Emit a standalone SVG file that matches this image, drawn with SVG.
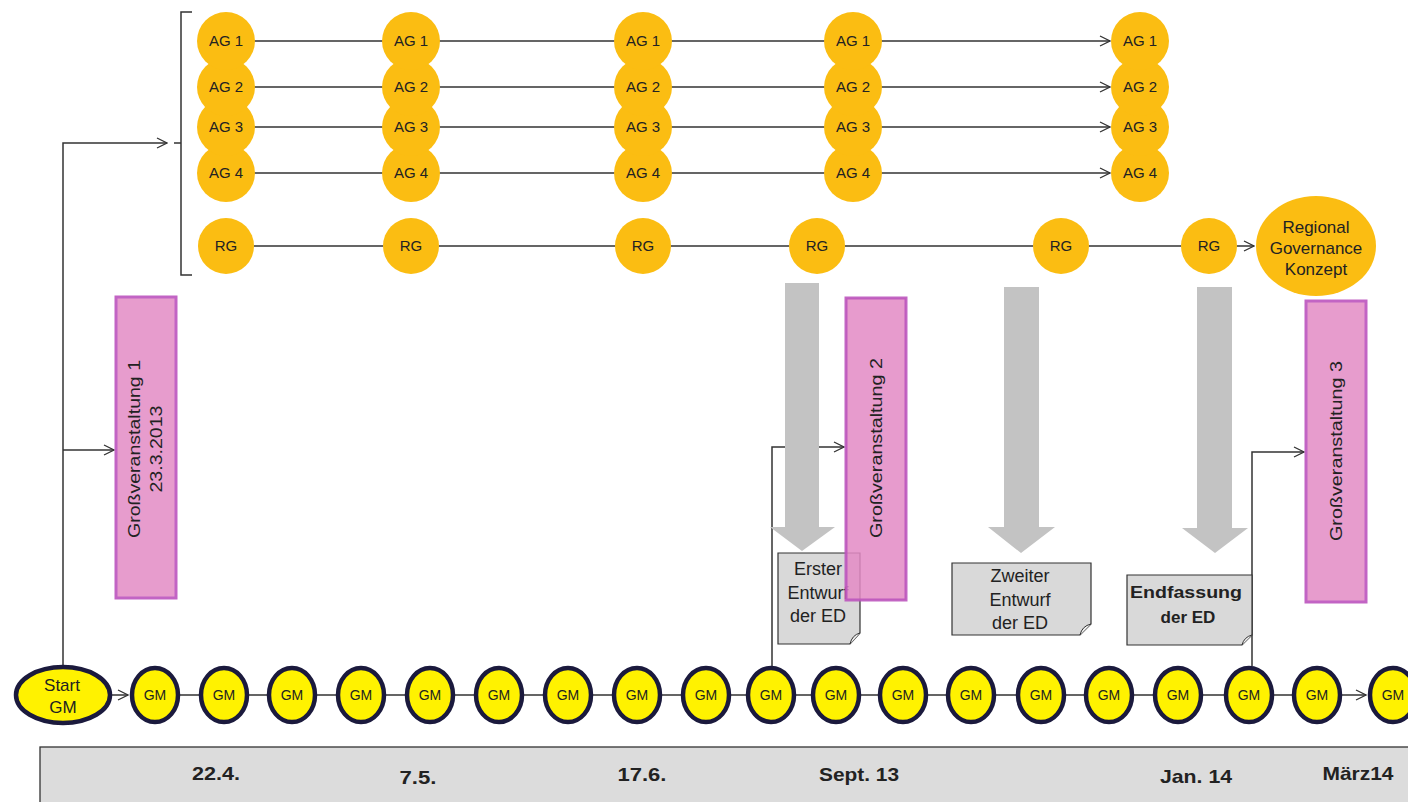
<svg xmlns="http://www.w3.org/2000/svg" width="1408" height="802" viewBox="0 0 1408 802">
<defs>
<marker id="arr" viewBox="0 0 12 12" refX="11" refY="6" markerWidth="12" markerHeight="12" markerUnits="userSpaceOnUse" orient="auto">
<path d="M1,1 L11,6 L1,11" fill="none" stroke="#333" stroke-width="1.3"/>
</marker>
</defs>
<style>
.ag{fill:#fbbd12}
.t{font-family:"Liberation Sans",Arial,sans-serif;fill:#222;text-anchor:middle}
.s15{font-size:15px}
.s14{font-size:14px}
.ln{stroke:#333;stroke-width:1.5;fill:none}
.pink{fill:#e79ccd;stroke:#c264c4;stroke-width:3}
.gm{fill:#fff200;stroke:#1b1a3d;stroke-width:4.5}
.big{fill:#c3c3c3}
.doc{fill:#d9d9d9;stroke:#333;stroke-width:1.2}
.date{font-family:"Liberation Sans",Arial,sans-serif;font-weight:bold;font-size:19px;fill:#222;text-anchor:middle}
</style>
<rect width="1408" height="802" fill="#fff"/>

<g id="connectors">
<path class="ln" d="M254,41H383M439,41H615M671,41H825"/>
<path class="ln" d="M881,41H1110" marker-end="url(#arr)"/>
<path class="ln" d="M254,87H383M439,87H615M671,87H825"/>
<path class="ln" d="M881,87H1110" marker-end="url(#arr)"/>
<path class="ln" d="M254,127H383M439,127H615M671,127H825"/>
<path class="ln" d="M881,127H1110" marker-end="url(#arr)"/>
<path class="ln" d="M254,173H383M439,173H615M671,173H825"/>
<path class="ln" d="M881,173H1110" marker-end="url(#arr)"/>
<path class="ln" d="M254,246H383M439,246H615M671,246H789M845,246H1033M1089,246H1181"/>
<path class="ln" d="M1237,246H1254" marker-end="url(#arr)"/>
<path class="ln" d="M192,12H181V143H174M181,143V275H192" stroke-width="1.4"/>
<path class="ln" d="M63,666V143H167" marker-end="url(#arr)"/>
<path class="ln" d="M63,450H114" marker-end="url(#arr)"/>
<path class="ln" d="M772,666V447H844" marker-end="url(#arr)"/>
<path class="ln" d="M1252,666V452H1304" marker-end="url(#arr)"/>
<path class="ln" d="M111,695H128" marker-end="url(#arr)"/>
<path class="ln" d="M180,695H199M249,695H267M317,695H336M386,695H405M455,695H474M524,695H543M593,695H612M662,695H681M731,695H746M796,695H811M861,695H878M928,695H946M996,695H1016M1066,695H1084M1134,695H1153M1203,695H1224M1274,695H1292"/>
<path class="ln" d="M1342,695H1366" marker-end="url(#arr)"/>
</g>

<g id="ag-col1">
<circle class="ag" cx="226" cy="173" r="29"/><circle class="ag" cx="226" cy="127" r="29"/><circle class="ag" cx="226" cy="87" r="29"/><circle class="ag" cx="226" cy="41" r="29"/>
<text class="t s15" x="226" y="46">AG 1</text><text class="t s15" x="226" y="92">AG 2</text><text class="t s15" x="226" y="132">AG 3</text><text class="t s15" x="226" y="178">AG 4</text>
</g>
<g id="ag-col2">
<circle class="ag" cx="411" cy="173" r="29"/><circle class="ag" cx="411" cy="127" r="29"/><circle class="ag" cx="411" cy="87" r="29"/><circle class="ag" cx="411" cy="41" r="29"/>
<text class="t s15" x="411" y="46">AG 1</text><text class="t s15" x="411" y="92">AG 2</text><text class="t s15" x="411" y="132">AG 3</text><text class="t s15" x="411" y="178">AG 4</text>
</g>
<g id="ag-col3">
<circle class="ag" cx="643" cy="173" r="29"/><circle class="ag" cx="643" cy="127" r="29"/><circle class="ag" cx="643" cy="87" r="29"/><circle class="ag" cx="643" cy="41" r="29"/>
<text class="t s15" x="643" y="46">AG 1</text><text class="t s15" x="643" y="92">AG 2</text><text class="t s15" x="643" y="132">AG 3</text><text class="t s15" x="643" y="178">AG 4</text>
</g>
<g id="ag-col4">
<circle class="ag" cx="853" cy="173" r="29"/><circle class="ag" cx="853" cy="127" r="29"/><circle class="ag" cx="853" cy="87" r="29"/><circle class="ag" cx="853" cy="41" r="29"/>
<text class="t s15" x="853" y="46">AG 1</text><text class="t s15" x="853" y="92">AG 2</text><text class="t s15" x="853" y="132">AG 3</text><text class="t s15" x="853" y="178">AG 4</text>
</g>
<g id="ag-col5">
<circle class="ag" cx="1140" cy="173" r="29"/><circle class="ag" cx="1140" cy="127" r="29"/><circle class="ag" cx="1140" cy="87" r="29"/><circle class="ag" cx="1140" cy="41" r="29"/>
<text class="t s15" x="1140" y="46">AG 1</text><text class="t s15" x="1140" y="92">AG 2</text><text class="t s15" x="1140" y="132">AG 3</text><text class="t s15" x="1140" y="178">AG 4</text>
</g>

<g id="rg-row">
<circle class="ag" cx="226" cy="246" r="28"/><text class="t s15" x="226" y="251">RG</text>
<circle class="ag" cx="411" cy="246" r="28"/><text class="t s15" x="411" y="251">RG</text>
<circle class="ag" cx="643" cy="246" r="28"/><text class="t s15" x="643" y="251">RG</text>
<circle class="ag" cx="817" cy="246" r="28"/><text class="t s15" x="817" y="251">RG</text>
<circle class="ag" cx="1061" cy="246" r="28"/><text class="t s15" x="1061" y="251">RG</text>
<circle class="ag" cx="1209" cy="246" r="28"/><text class="t s15" x="1209" y="251">RG</text>
</g>
<g id="rg-konzept">
<ellipse class="ag" cx="1316" cy="246" rx="60" ry="50"/>
<text class="t" font-size="17" x="1316" y="233">Regional</text>
<text class="t" font-size="17" x="1316" y="254">Governance</text>
<text class="t" font-size="17" x="1316" y="275">Konzept</text>
</g>

<g id="big-arrows">
<path class="big" d="M785,283H819V527H835L802,551L770,527H785Z"/>
<path class="big" d="M1004,287H1039V527H1055L1021,553L988,527H1004Z"/>
<path class="big" d="M1197,287H1232V528H1248L1215,553L1182,528H1197Z"/>
</g>

<g id="gv1">
<rect class="pink" x="116" y="297" width="60" height="301"/>
<text class="t" font-size="16" transform="translate(146,449) rotate(-90)" y="-6" textLength="178" lengthAdjust="spacingAndGlyphs">Großveranstaltung 1</text>
<text class="t" font-size="16" transform="translate(146,449) rotate(-90)" y="16" textLength="87" lengthAdjust="spacingAndGlyphs">23.3.2013</text>
</g>

<g id="doc1">
<path class="doc" d="M778,553H860V633L850,644H778Z"/>
<path d="M850,644Q852,635 860,633" fill="#eee" stroke="#333" stroke-width="1"/>
<text class="t" font-size="18" x="818" y="575">Erster</text>
<text class="t" font-size="18" x="818" y="599">Entwurf</text>
<text class="t" font-size="18" x="818" y="622">der ED</text>
</g>

<g id="gv2">
<rect x="846" y="298" width="60" height="302" fill="#e38ac4" fill-opacity="0.85" stroke="#bb55bd" stroke-opacity="0.9" stroke-width="3"/>
<text class="t" font-size="16" transform="translate(876,448) rotate(-90)" y="6" textLength="180" lengthAdjust="spacingAndGlyphs">Großveranstaltung 2</text>
</g>

<g id="doc2">
<path class="doc" d="M952,563H1091V624L1080,635H952Z"/>
<path d="M1080,635Q1082,626 1091,624" fill="#eee" stroke="#333" stroke-width="1"/>
<text class="t" font-size="18" x="1020" y="582">Zweiter</text>
<text class="t" font-size="18" x="1020" y="606">Entwurf</text>
<text class="t" font-size="18" x="1020" y="629">der ED</text>
</g>

<g id="doc3">
<path class="doc" d="M1127,575H1252V635L1242,645H1127Z"/>
<path d="M1242,645Q1244,637 1252,635" fill="#eee" stroke="#333" stroke-width="1"/>
<text class="t" font-size="17" font-weight="bold" x="1186" y="598" textLength="112" lengthAdjust="spacingAndGlyphs">Endfassung</text>
<text class="t" font-size="17" font-weight="bold" x="1188" y="623">der ED</text>
</g>

<g id="gv3">
<rect class="pink" x="1306" y="301" width="60" height="301"/>
<text class="t" font-size="16" transform="translate(1336,451) rotate(-90)" y="6" textLength="180" lengthAdjust="spacingAndGlyphs">Großveranstaltung 3</text>
</g>

<g id="start-gm">
<ellipse class="gm" cx="63" cy="695" rx="47" ry="28"/>
<text class="t" font-size="17" x="62" y="691">Start</text>
<text class="t" font-size="17" x="63" y="713">GM</text>
</g>
<g id="gm-row">
<ellipse class="gm" cx="155" cy="695" rx="23" ry="27"/><text class="t s14" x="155" y="700">GM</text>
<ellipse class="gm" cx="224" cy="695" rx="23" ry="27"/><text class="t s14" x="224" y="700">GM</text>
<ellipse class="gm" cx="292" cy="695" rx="23" ry="27"/><text class="t s14" x="292" y="700">GM</text>
<ellipse class="gm" cx="361" cy="695" rx="23" ry="27"/><text class="t s14" x="361" y="700">GM</text>
<ellipse class="gm" cx="430" cy="695" rx="23" ry="27"/><text class="t s14" x="430" y="700">GM</text>
<ellipse class="gm" cx="499" cy="695" rx="23" ry="27"/><text class="t s14" x="499" y="700">GM</text>
<ellipse class="gm" cx="568" cy="695" rx="23" ry="27"/><text class="t s14" x="568" y="700">GM</text>
<ellipse class="gm" cx="637" cy="695" rx="23" ry="27"/><text class="t s14" x="637" y="700">GM</text>
<ellipse class="gm" cx="706" cy="695" rx="23" ry="27"/><text class="t s14" x="706" y="700">GM</text>
<ellipse class="gm" cx="771" cy="695" rx="23" ry="27"/><text class="t s14" x="771" y="700">GM</text>
<ellipse class="gm" cx="836" cy="695" rx="23" ry="27"/><text class="t s14" x="836" y="700">GM</text>
<ellipse class="gm" cx="903" cy="695" rx="23" ry="27"/><text class="t s14" x="903" y="700">GM</text>
<ellipse class="gm" cx="971" cy="695" rx="23" ry="27"/><text class="t s14" x="971" y="700">GM</text>
<ellipse class="gm" cx="1041" cy="695" rx="23" ry="27"/><text class="t s14" x="1041" y="700">GM</text>
<ellipse class="gm" cx="1109" cy="695" rx="23" ry="27"/><text class="t s14" x="1109" y="700">GM</text>
<ellipse class="gm" cx="1178" cy="695" rx="23" ry="27"/><text class="t s14" x="1178" y="700">GM</text>
<ellipse class="gm" cx="1249" cy="695" rx="23" ry="27"/><text class="t s14" x="1249" y="700">GM</text>
<ellipse class="gm" cx="1317" cy="695" rx="23" ry="27"/><text class="t s14" x="1317" y="700">GM</text>
<ellipse class="gm" cx="1393" cy="695" rx="23" ry="27"/><text class="t s14" x="1393" y="700">GM</text>
</g>

<g id="timeline">
<rect x="40" y="747" width="1380" height="60" fill="#dcdcdc" stroke="#333" stroke-width="1.3"/>
<text class="date" x="216" y="780" textLength="48" lengthAdjust="spacingAndGlyphs">22.4.</text>
<text class="date" x="418" y="784" textLength="37" lengthAdjust="spacingAndGlyphs">7.5.</text>
<text class="date" x="642" y="781" textLength="49" lengthAdjust="spacingAndGlyphs">17.6.</text>
<text class="date" x="859" y="781" textLength="80" lengthAdjust="spacingAndGlyphs">Sept. 13</text>
<text class="date" x="1196" y="783" textLength="72" lengthAdjust="spacingAndGlyphs">Jan. 14</text>
<text class="date" x="1358" y="780" textLength="71" lengthAdjust="spacingAndGlyphs">März14</text>
</g>
</svg>
